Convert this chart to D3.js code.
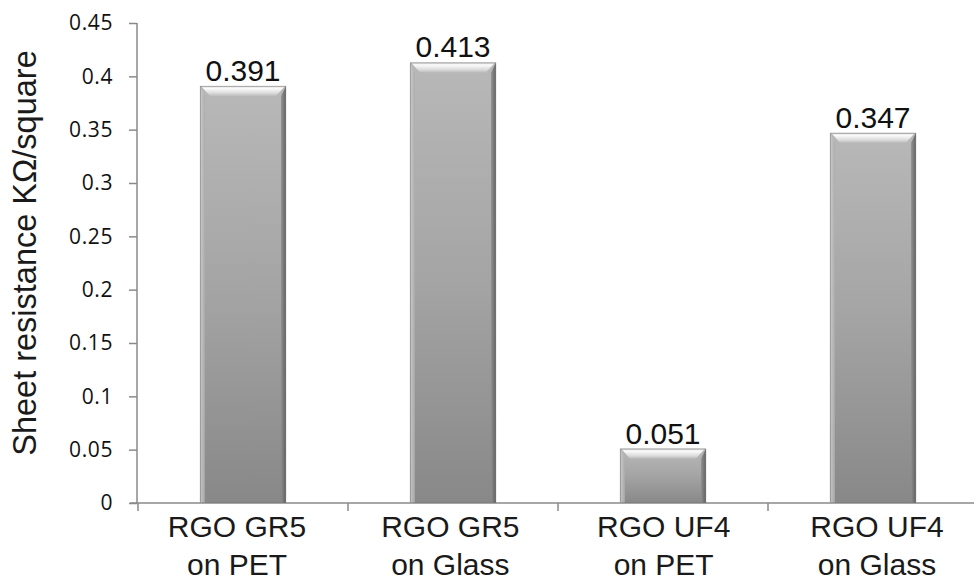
<!DOCTYPE html>
<html>
<head>
<meta charset="utf-8">
<script src="https://cdn.jsdelivr.net/npm/d3@7"></script>
<style>
  html, body { margin: 0; padding: 0; background: #fff; }
  svg { display: block; }
</style>
</head>
<body>
<svg id="chart" width="974" height="583"></svg>
<script>
// Sheet resistance of reduced graphene oxide films (kΩ/square)
const categories = [
  ["RGO GR5", "on PET"],
  ["RGO GR5", "on Glass"],
  ["RGO UF4", "on PET"],
  ["RGO UF4", "on Glass"]
];
const resistance = [0.391, 0.413, 0.051, 0.347];
const yTicks = [0, 0.05, 0.1, 0.15, 0.2, 0.25, 0.3, 0.35, 0.4, 0.45];
const yTickLabels = ["0", "0.05", "0.1", "0.15", "0.2", "0.25", "0.3", "0.35", "0.4", "0.45"];
const yTitle = "Sheet resistance KΩ/square";

const svg = d3.select("#chart");
const defs = svg.append("defs");

const plot = { left: 138, right: 978, top: 23, bottom: 503 };

const keys = categories.map(c => c.join(" "));
const x = d3.scaleBand()
  .domain(keys)
  .range([plot.left, plot.right])
  .paddingInner(0.59)
  .paddingOuter(0.295);
const step = x.step();

// category text sits on a slightly wider spread than the bars
const xLabel = d3.scalePoint().domain(keys).range([237, 877]);

const y = d3.scaleLinear().domain([0, 0.45]).range([plot.bottom, plot.top]);

// gradients for the bevelled bars
function linGrad(id, x1, y1, x2, y2, stops) {
  const g = defs.append("linearGradient").attr("id", id)
    .attr("x1", x1).attr("y1", y1).attr("x2", x2).attr("y2", y2);
  stops.forEach(([o, c]) => g.append("stop").attr("offset", o).attr("stop-color", c));
}
linGrad("bodyGrad", 0, 0, 0, 1, [[0, "#b8b8b8"], [0.5, "#a4a4a4"], [1, "#888888"]]);
linGrad("topGrad", 0, 0, 0, 1, [[0, "#d8d8d8"], [0.25, "#fbfbfb"], [0.7, "#dcdcdc"], [1, "#bdbdbd"]]);
linGrad("leftGrad", 0, 0, 1, 0, [[0, "#d2d2d2"], [1, "#ababab"]]);
linGrad("rightGrad", 0, 0, 1, 0, [[0, "#8e8e8e"], [1, "#5a5a5a"]]);

// axes
const axisColor = "#8a8a8a";
const yAxis = d3.axisLeft(y)
  .tickValues(yTicks)
  .tickFormat((d, i) => yTickLabels[i])
  .tickSize(8)
  .tickPadding(16);

const gy = svg.append("g").attr("transform", `translate(${plot.left - 1},0)`).call(yAxis);
gy.select(".domain").attr("stroke", axisColor).attr("stroke-width", 1.5)
  .attr("d", `M0,${plot.top}V${plot.bottom}`);
gy.selectAll(".tick line").attr("stroke", axisColor).attr("stroke-width", 1.5);
gy.selectAll(".tick text")
  .attr("font-family", "'Open Sans', 'Liberation Sans', sans-serif")
  .attr("font-size", 21)
  .attr("letter-spacing", 0.6)
  .attr("fill", "#111");

const xAxis = d3.axisBottom(x).tickSize(0).tickFormat("");
const gx = svg.append("g").attr("transform", `translate(0,${plot.bottom})`).call(xAxis);
gx.select(".domain").attr("stroke", axisColor).attr("stroke-width", 1.5)
  .attr("d", `M${plot.left - 8},0H${plot.right}`);
// category boundary ticks
gx.selectAll("line.sep")
  .data(keys)
  .join("line")
  .attr("class", "sep")
  .attr("x1", d => x(d) - (step - x.bandwidth()) / 2)
  .attr("x2", d => x(d) - (step - x.bandwidth()) / 2)
  .attr("y1", 0).attr("y2", 8)
  .attr("stroke", axisColor).attr("stroke-width", 1.5);

// category labels (two lines)
const catLabels = svg.append("g")
  .attr("font-family", "'Liberation Sans', Arial, sans-serif")
  .attr("font-size", 30)
  .attr("fill", "#1a1a1a")
  .attr("text-anchor", "middle");
categories.forEach((c, i) => {
  const cx = xLabel(keys[i]);
  const t = catLabels.append("text").attr("x", cx);
  t.append("tspan").attr("x", cx).attr("y", 537).text(c[0]);
  t.append("tspan").attr("x", cx).attr("y", 575).text(c[1]);
});

// y-axis title
svg.append("text")
  .attr("transform", `translate(36,${253}) rotate(-90)`)
  .attr("text-anchor", "middle")
  .attr("font-family", "'Liberation Sans', Arial, sans-serif")
  .attr("font-size", 32.5)
  .attr("fill", "#1a1a1a")
  .text(yTitle);

// bevelled bars
const bevelTop = 10, bevelSide = 5;
const bars = svg.append("g").selectAll("g.bar")
  .data(resistance.map((v, i) => ({ key: keys[i], value: v })))
  .join("g").attr("class", "bar");

bars.each(function(d) {
  const g = d3.select(this);
  const x0 = x(d.key), w = x.bandwidth();
  const y0 = y(d.value), y1 = y(0);
  const bt = Math.min(bevelTop, (y1 - y0) / 2);
  g.append("rect").attr("x", x0).attr("y", y0).attr("width", w).attr("height", y1 - y0)
    .attr("fill", "url(#bodyGrad)");
  // left edge
  g.append("path")
    .attr("d", `M${x0},${y0}L${x0 + bevelSide},${y0 + bt}L${x0 + bevelSide},${y1}L${x0},${y1}Z`)
    .attr("fill", "url(#leftGrad)").attr("opacity", 0.85);
  // right edge
  g.append("path")
    .attr("d", `M${x0 + w},${y0}L${x0 + w - bevelSide},${y0 + bt}L${x0 + w - bevelSide},${y1}L${x0 + w},${y1}Z`)
    .attr("fill", "url(#rightGrad)").attr("opacity", 0.9);
  // top bevel
  g.append("path")
    .attr("d", `M${x0 + 1},${y0}L${x0 + w - 1},${y0}L${x0 + w - bevelSide - 5},${y0 + bt}L${x0 + bevelSide + 5},${y0 + bt}Z`)
    .attr("fill", "url(#topGrad)");
  // thin outline
  g.append("rect").attr("x", x0 + 0.5).attr("y", y0 + 0.5).attr("width", w - 1).attr("height", y1 - y0 - 1)
    .attr("fill", "none").attr("stroke", "#7a7a7a").attr("stroke-opacity", 0.55);
});

// value labels
svg.append("g").selectAll("text")
  .data(resistance)
  .join("text")
  .attr("x", (d, i) => x(keys[i]) + x.bandwidth() / 2)
  .attr("y", d => y(d) - 5)
  .attr("text-anchor", "middle")
  .attr("font-family", "'Liberation Sans', Arial, sans-serif")
  .attr("font-size", 30)
  .attr("fill", "#111")
  .text(d => d.toFixed(3));
</script>
</body>
</html>
